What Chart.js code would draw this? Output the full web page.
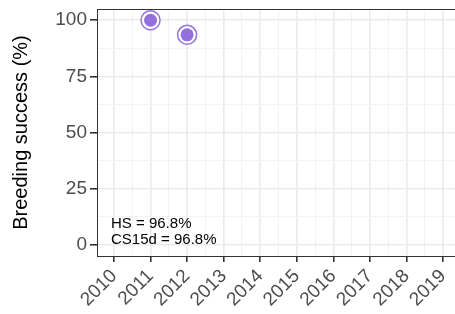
<!DOCTYPE html>
<html>
<head>
<meta charset="utf-8">
<script src="https://cdn.jsdelivr.net/npm/chart.js@4.4.0/dist/chart.umd.min.js"></script>
<style>
  html, body { margin: 0; padding: 0; background: #fff; overflow: hidden; }
  #wrap { width: 460px; height: 314px; }
</style>
</head>
<body>
<div id="wrap"><canvas id="myChart" width="460" height="314"></canvas></div>
<script>
var years = [2011, 2012];
var success = [100, 93.5];
var xTicks = [2010, 2010.5, 2011, 2011.5, 2012, 2012.5, 2013, 2013.5, 2014, 2014.5, 2015, 2015.5, 2016, 2016.5, 2017, 2017.5, 2018, 2018.5, 2019];
var yTicks = [0, 12.5, 25, 37.5, 50, 62.5, 75, 87.5, 100];
var notes = ["HS = 96.8%", "CS15d = 96.8%"];
var purple = "#9370DB";

var points = years.map(function (y, i) { return { x: y, y: success[i] }; });

function isMajor(v, step) { return Math.abs(v / step - Math.round(v / step)) < 1e-6; }

var framePlugin = {
    id: "frame",
    afterDatasetsDraw: function (chart) {
        var ctx = chart.ctx, a = chart.chartArea;
        ctx.save();
        ctx.strokeStyle = "#333333";
        ctx.lineWidth = 1;
        ctx.strokeRect(a.left + 0.5, a.top + 0.5, a.right - a.left, a.bottom - a.top);
        ctx.fillStyle = "#000";
        ctx.font = "15px 'Liberation Sans', Arial, sans-serif";
        ctx.textBaseline = "alphabetic";
        ctx.fillText(notes[0], a.left + 14, 228);
        ctx.fillText(notes[1], a.left + 14, 244);
        ctx.restore();
    }
};

new Chart("myChart", {
    type: "scatter",
    data: {
        datasets: [
            {
                // inner dot (drawn on top)
                data: points,
                pointRadius: 6.5,
                pointBackgroundColor: purple,
                pointBorderWidth: 0,
                clip: false
            },
            {
                // outer ring
                data: points,
                pointRadius: 9.5,
                pointBackgroundColor: "#ffffff",
                pointBorderColor: purple,
                pointBorderWidth: 1.5,
                clip: false
            }
        ]
    },
    options: {
        responsive: false,
        animation: false,
        layout: { autoPadding: false, padding: { top: 9, right: 0, left: 0, bottom: 0 } },
        plugins: { legend: { display: false }, tooltip: { enabled: false } },
        scales: {
            x: {
                type: "linear",
                min: 2009.535,
                max: 2019.465,
                afterBuildTicks: function (s) { s.ticks = xTicks.map(function (v) { return { value: v }; }); },
                afterFit: function (s) { s.height = 58; s.paddingLeft = 0; s.paddingRight = 0; },
                grid: {
                    color: function (c) { return isMajor(c.tick.value, 1) ? "#ebebeb" : "#f3f3f3"; },
                    lineWidth: function (c) { return isMajor(c.tick.value, 1) ? 1.6 : 1; },
                    tickColor: function (c) { return isMajor(c.tick.value, 1) ? "#333333" : "rgba(0,0,0,0)"; },
                    tickLength: 6
                },
                border: { color: "#333333", width: 1 },
                ticks: {
                    autoSkip: false,
                    minRotation: 45,
                    maxRotation: 45,
                    padding: 3,
                    color: "#4d4d4d",
                    font: { family: "'Liberation Sans', Arial, sans-serif", size: 19 },
                    callback: function (v) { return isMajor(v, 1) ? String(v) : ""; }
                }
            },
            y: {
                min: -5,
                max: 105,
                afterBuildTicks: function (s) { s.ticks = yTicks.map(function (v) { return { value: v }; }); },
                afterFit: function (s) { s.width = 97; s.paddingTop = 0; s.paddingBottom = 0; },
                grid: {
                    color: function (c) { return isMajor(c.tick.value, 25) ? "#ebebeb" : "#f3f3f3"; },
                    lineWidth: function (c) { return isMajor(c.tick.value, 25) ? 1.6 : 1; },
                    tickColor: function (c) { return isMajor(c.tick.value, 25) ? "#333333" : "rgba(0,0,0,0)"; },
                    tickLength: 7
                },
                border: { color: "#333333", width: 1 },
                ticks: {
                    padding: 3,
                    color: "#4d4d4d",
                    font: { family: "'Liberation Sans', Arial, sans-serif", size: 19 },
                    callback: function (v) { return isMajor(v, 25) ? String(v) : ""; }
                },
                title: {
                    display: true,
                    text: "Breeding success (%)",
                    color: "#000",
                    padding: { top: 9, bottom: 4 },
                    font: { family: "'Liberation Sans', Arial, sans-serif", size: 20 }
                }
            }
        }
    },
    plugins: [framePlugin]
});
</script>
</body>
</html>
